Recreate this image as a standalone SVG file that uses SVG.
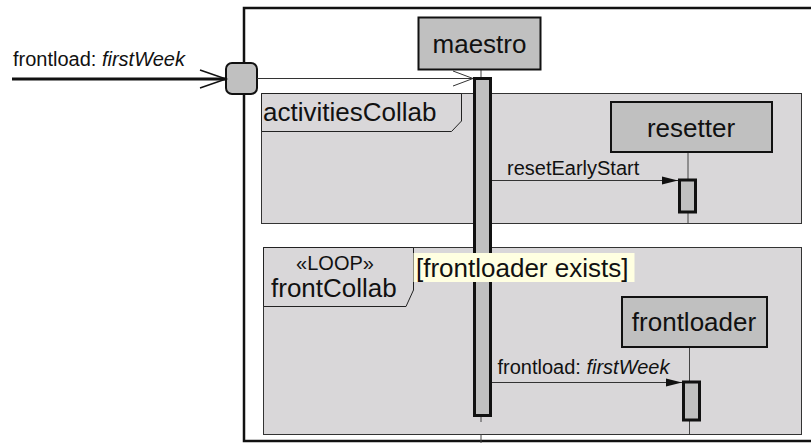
<svg xmlns="http://www.w3.org/2000/svg" width="811" height="443" viewBox="0 0 811 443">
<defs>
<style>
text{font-family:"Liberation Sans",Arial,sans-serif;fill:#111}
.big{font-size:26px}
.small{font-size:20px}
.lifeline{stroke:#444;stroke-width:1;fill:none}
.box{fill:#c0c0c0;stroke:#111;stroke-width:2}
.bar{fill:#c0c0c0;stroke:#111;stroke-width:3}
.frame{fill:#d9d7d9;stroke:#333;stroke-width:1}
.tab{fill:#d9d7d9;stroke:#222;stroke-width:1}
.msg{stroke:#333;stroke-width:1;fill:none}
</style>
<marker id="filled" markerWidth="16" markerHeight="10" refX="16" refY="5" orient="auto" markerUnits="userSpaceOnUse">
<path d="M0,1 L16,5 L0,9 Z" fill="#111"/>
</marker>
</defs>
<rect width="811" height="443" fill="#fff"/>

<g id="outerFrame">
<rect x="244" y="8" width="580" height="433" fill="#fff" stroke="#111" stroke-width="2.5"/>
</g>

<g id="activitiesCollab">
<rect class="frame" x="261.5" y="93.5" width="540" height="130"/>
<path class="tab" d="M261.5,93.5 H461.5 V121 L451.5,131.5 H261.5 Z"/>
<text class="big" x="263" y="121">activitiesCollab</text>
</g>

<g id="frontCollab">
<rect class="frame" x="263.5" y="247.5" width="538" height="187"/>
<path class="tab" d="M263.5,247.5 H413.5 V290 L406,306.5 H263.5 Z"/>
<text x="335" y="270" font-size="20" text-anchor="middle">«LOOP»</text>
<text class="big" x="271" y="297">frontCollab</text>
</g>

<g id="port">
<rect x="226" y="63" width="31" height="31" rx="6" fill="#c0c0c0" stroke="#111" stroke-width="2"/>
</g>

<g id="maestro">
<line class="lifeline" x1="481" y1="70" x2="481" y2="78"/>
<line class="lifeline" x1="481" y1="416" x2="481" y2="422"/>
<line class="lifeline" x1="481" y1="434" x2="481" y2="443"/>
<rect class="box" x="418.5" y="17.5" width="122" height="52"/>
<text class="big" x="479.5" y="53" text-anchor="middle">maestro</text>
<rect class="bar" x="474.5" y="78.5" width="16" height="337"/>
</g>

<g id="resetter">
<line class="lifeline" x1="688" y1="152" x2="688" y2="223"/>
<rect class="box" x="611" y="102" width="161" height="50"/>
<text class="big" x="691" y="137" text-anchor="middle">resetter</text>
<rect class="bar" x="679.5" y="180" width="16" height="32"/>
</g>

<g id="frontloader">
<line class="lifeline" x1="689.5" y1="347" x2="689.5" y2="434"/>
<rect class="box" x="622" y="297" width="145" height="50"/>
<text class="big" x="694" y="331" text-anchor="middle">frontloader</text>
<rect class="bar" x="683.5" y="382" width="16" height="38"/>
</g>

<g id="connectors">
<line x1="12" y1="79" x2="226" y2="79" stroke="#111" stroke-width="3"/>
<path d="M200,70 L226,79 L200,88" fill="none" stroke="#111" stroke-width="1.5"/>
<text class="small" x="13" y="66">frontload: <tspan font-style="italic">firstWeek</tspan></text>

<line class="msg" x1="257" y1="78.5" x2="473" y2="78.5"/>
<path d="M453,71 L473,78.5 L453,86" fill="none" stroke="#333" stroke-width="1"/>

<line class="msg" x1="492" y1="180.5" x2="678" y2="180.5" marker-end="url(#filled)"/>
<text class="small" x="507" y="175">resetEarlyStart</text>

<line class="msg" x1="492" y1="382.5" x2="682" y2="382.5" marker-end="url(#filled)"/>
<text class="small" x="497.5" y="373.5">frontload: <tspan font-style="italic">firstWeek</tspan></text>
</g>

<g id="guard">
<rect x="413.5" y="253" width="221" height="29" fill="#ffffe1"/>
<text class="big" x="416" y="277">[frontloader exists]</text>
</g>
</svg>
